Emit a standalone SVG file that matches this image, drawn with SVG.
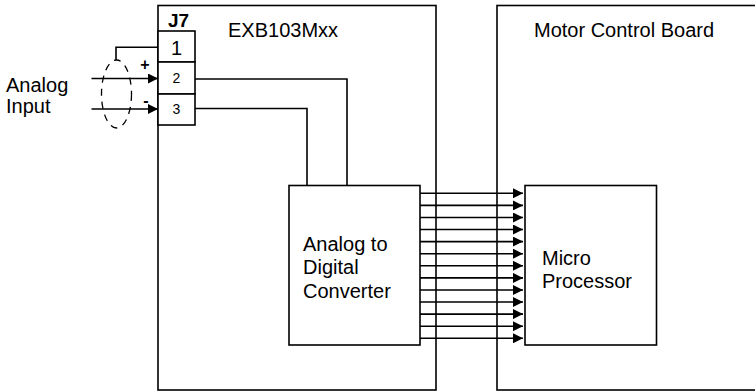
<svg xmlns="http://www.w3.org/2000/svg" width="755" height="392" viewBox="0 0 755 392">
<style>
.b{fill:#fff;stroke:#000;stroke-width:1.6}
.w{fill:none;stroke:#000;stroke-width:1.6}
.t{font-family:"Liberation Sans",Arial,sans-serif;font-size:20px;fill:#000}
.s{font-family:"Liberation Sans",Arial,sans-serif;font-size:14px;fill:#000}
</style>
<defs>
<marker id="ah" markerUnits="userSpaceOnUse" markerWidth="11" markerHeight="10" refX="10" refY="5" orient="auto">
<path d="M0,0 L10,5 L0,10 Z" fill="#000"/>
</marker>
</defs>
<g id="exb">
<rect class="b" x="158" y="5.5" width="278" height="384.5"/>
<text class="t" x="228" y="37">EXB103Mxx</text>
</g>
<g id="motor">
<rect class="b" x="497" y="5.5" width="262" height="384.5"/>
<text class="t" x="534" y="37">Motor Control Board</text>
</g>
<g id="j7">
<text class="t" x="168" y="27" style="font-weight:bold;font-size:19px">J7</text>
<rect class="b" x="158" y="31" width="37" height="31"/>
<rect class="b" x="158" y="62" width="37" height="32"/>
<rect class="b" x="158" y="94" width="37" height="31"/>
<text class="t" x="176.5" y="55" text-anchor="middle">1</text>
<text class="s" x="176.5" y="83" text-anchor="middle">2</text>
<text class="s" x="176.5" y="114" text-anchor="middle">3</text>
</g>
<g id="adc">
<rect class="b" x="289" y="185.5" width="131" height="159.5"/>
<text class="t" x="303" y="251">Analog to</text>
<text class="t" x="303" y="274">Digital</text>
<text class="t" x="303" y="298">Converter</text>
</g>
<g id="micro">
<rect class="b" x="525" y="185.5" width="131.5" height="159.5"/>
<text class="t" x="542" y="265">Micro</text>
<text class="t" x="542" y="288">Processor</text>
</g>
<g id="input">
<text class="t" x="6" y="92">Analog</text>
<text class="t" x="6" y="113">Input</text>
<text class="t" x="145" y="70" text-anchor="middle" style="font-size:16px;font-weight:bold">+</text>
<text class="t" x="146" y="106" text-anchor="middle" style="font-size:16px;font-weight:bold">-</text>
<ellipse cx="116.5" cy="94" rx="15" ry="34" fill="none" stroke="#000" stroke-width="1.3" stroke-dasharray="7,6"/>
</g>
<g id="connectors">
<path class="w" d="M158,47.3 H116 V60"/>
<line class="w" x1="91.5" y1="78.5" x2="158" y2="78.5" marker-end="url(#ah)"/>
<line class="w" x1="91.5" y1="109" x2="158" y2="109" marker-end="url(#ah)"/>
<path class="w" d="M195,79 H347 V185.5"/>
<path class="w" d="M195,108.5 H307 V185.5"/>
<g class="w" marker-end="url(#ah)">
<line x1="420" y1="193.3" x2="523" y2="193.3"/>
<line x1="420" y1="205.4" x2="523" y2="205.4"/>
<line x1="420" y1="217.5" x2="523" y2="217.5"/>
<line x1="420" y1="229.5" x2="523" y2="229.5"/>
<line x1="420" y1="241.6" x2="523" y2="241.6"/>
<line x1="420" y1="253.7" x2="523" y2="253.7"/>
<line x1="420" y1="265.8" x2="523" y2="265.8"/>
<line x1="420" y1="277.9" x2="523" y2="277.9"/>
<line x1="420" y1="290.0" x2="523" y2="290.0"/>
<line x1="420" y1="302.0" x2="523" y2="302.0"/>
<line x1="420" y1="314.1" x2="523" y2="314.1"/>
<line x1="420" y1="326.2" x2="523" y2="326.2"/>
<line x1="420" y1="338.3" x2="523" y2="338.3"/>
</g>
</g>
</svg>
